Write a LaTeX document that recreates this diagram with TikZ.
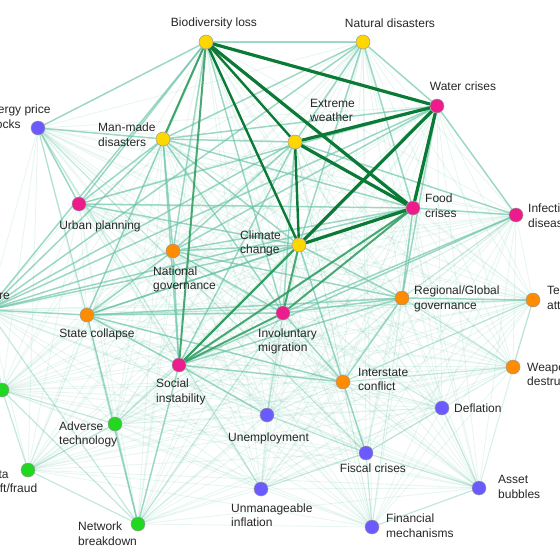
\documentclass[tikz,border=0pt]{standalone}
\usepackage{fontspec}
\setmainfont{Liberation Sans}
\usetikzlibrary{backgrounds}

\definecolor{envyel}{HTML}{FFD700}
\definecolor{socpink}{HTML}{EC1C8C}
\definecolor{geoorange}{HTML}{FF8C00}
\definecolor{ecoblue}{HTML}{6A5AFF}
\definecolor{techgreen}{HTML}{1FD81F}
\definecolor{bugnLight}{HTML}{66C2A4}
\definecolor{bugnMid}{HTML}{2E9B5E}
\definecolor{bugnDark}{HTML}{0B7A36}

\def\risklist{bio,natdis,manmade,extreme,climate,water,food,infect,urban,migration,social,natgov,statecol,regov,interstate,terror,weapons,energy,deflation,unemp,fiscal,bubbles,inflation,finmech,critinfra,cyber,advtech,datafraud,network}

\begin{document}
\begin{tikzpicture}[x=1pt, y=-1pt,
  risk/.style={circle, draw=black!40, line width=0.5pt, minimum size=14pt, inner sep=0pt},
  lbl/.style={font=\fontsize{12}{14.5}\selectfont, align=left, inner sep=0pt, text=black!85},
  linkfaint/.style={draw=bugnLight, line width=0.9pt, opacity=0.15},
  linkweak/.style={draw=bugnLight, line width=1.2pt, opacity=0.3},
  linkmid/.style={draw=bugnLight, line width=1.5pt, opacity=0.6},
  linkdeep/.style={draw=bugnMid, line width=2pt, opacity=0.85},
  linkstrong/.style={draw=bugnDark, line width=3.2pt}
]
\useasboundingbox (0,0) rectangle (560,560);

\node[risk, fill=envyel] (bio) at (206,42) {};
\node[risk, fill=envyel] (natdis) at (363,42) {};
\node[risk, fill=envyel] (manmade) at (163,139) {};
\node[risk, fill=envyel] (extreme) at (295,142) {};
\node[risk, fill=envyel] (climate) at (299,245) {};
\node[risk, fill=socpink] (water) at (437,106) {};
\node[risk, fill=socpink] (food) at (413,208) {};
\node[risk, fill=socpink] (infect) at (516,215) {};
\node[risk, fill=socpink] (urban) at (79,204) {};
\node[risk, fill=socpink] (migration) at (283,313) {};
\node[risk, fill=socpink] (social) at (179,365) {};
\node[risk, fill=geoorange] (natgov) at (173,251) {};
\node[risk, fill=geoorange] (statecol) at (87,315) {};
\node[risk, fill=geoorange] (regov) at (402,298) {};
\node[risk, fill=geoorange] (interstate) at (343,382) {};
\node[risk, fill=geoorange] (terror) at (533,300) {};
\node[risk, fill=geoorange] (weapons) at (513,367) {};
\node[risk, fill=ecoblue] (energy) at (38,128) {};
\node[risk, fill=ecoblue] (deflation) at (442,408) {};
\node[risk, fill=ecoblue] (unemp) at (267,415) {};
\node[risk, fill=ecoblue] (fiscal) at (366,453) {};
\node[risk, fill=ecoblue] (bubbles) at (479,488) {};
\node[risk, fill=ecoblue] (inflation) at (261,489) {};
\node[risk, fill=ecoblue] (finmech) at (372,527) {};
\node[risk, fill=techgreen] (critinfra) at (-12,310) {};
\node[risk, fill=techgreen] (cyber) at (2,390) {};
\node[risk, fill=techgreen] (advtech) at (115,424) {};
\node[risk, fill=techgreen] (datafraud) at (28,470) {};
\node[risk, fill=techgreen] (network) at (138,524) {};

\node[lbl] (bio-l) at (214,23) {Biodiversity loss};
\node[lbl] (natdis-l) at (390,23) {Natural disasters};
\node[lbl] (water-l) at (463,86) {Water crises};
\node[lbl, anchor=west] (extreme-l) at (310,110.5) {Extreme\\weather};
\node[lbl, anchor=west] (manmade-l) at (98,134.5) {Man-made\\disasters};
\node[lbl, anchor=west] (energy-l) at (-17,116.5) {Energy price\\shocks};
\node[lbl] (urban-l) at (100,226) {Urban planning};
\node[lbl, anchor=west] (natgov-l) at (153,279.5) {National\\governance};
\node[lbl, anchor=west] (climate-l) at (240,243.5) {Climate\\change};
\node[lbl, anchor=west] (food-l) at (425,205.5) {Food\\crises};
\node[lbl, anchor=west] (infect-l) at (528,215.5) {Infectious\\diseases};
\node[lbl, anchor=east] (critinfra-l) at (10,295) {Critical infrastructure};
\node[lbl] (statecol-l) at (97,334) {State collapse};
\node[lbl, anchor=west] (social-l) at (156,392) {Social\\instability};
\node[lbl, anchor=west] (migration-l) at (258,341.5) {Involuntary\\migration};
\node[lbl, anchor=west] (regov-l) at (414,299) {Regional/Global\\governance};
\node[lbl, anchor=west] (terror-l) at (547,297.5) {Terrorist\\attacks};
\node[lbl, anchor=west] (weapons-l) at (527,374) {Weapons of mass\\destruction};
\node[lbl, anchor=west] (interstate-l) at (358,379.5) {Interstate\\conflict};
\node[lbl, anchor=west] (deflation-l) at (454,408) {Deflation};
\node[lbl, anchor=west] (unemp-l) at (228,438) {Unemployment};
\node[lbl] (fiscal-l) at (373,468) {Fiscal crises};
\node[lbl, anchor=west] (bubbles-l) at (498,487) {Asset\\bubbles};
\node[lbl, anchor=west] (inflation-l) at (231,515) {Unmanageable\\inflation};
\node[lbl, anchor=west] (finmech-l) at (386,525.5) {Financial\\mechanisms};
\node[lbl, anchor=west] (advtech-l) at (59,434.5) {Adverse\\technology};
\node[lbl, anchor=west] (datafraud-l) at (-17,481.5) {Data\\theft/fraud};
\node[lbl, anchor=west] (network-l) at (78,533.5) {Network\\breakdown};

\begin{scope}[on background layer]
% every pair of risks, faintly
\foreach \a [count=\i] in \risklist {
  \foreach \b [count=\j] in \risklist {
    \ifnum\j>\i \draw[linkfaint] (\a) -- (\b); \fi
  }
}
\foreach \a/\b in {unemp/fiscal, fiscal/bubbles, finmech/bubbles, finmech/fiscal,
    deflation/bubbles, inflation/fiscal, energy/inflation, network/advtech,
    network/datafraud, datafraud/advtech, cyber/network, cyber/datafraud,
    cyber/advtech, critinfra/network, critinfra/cyber, terror/interstate,
    weapons/interstate, terror/weapons, energy/fiscal, energy/statecol,
    unemp/migration, network/migration, advtech/social, deflation/fiscal,
    infect/regov, terror/statecol, weapons/regov}
  \draw[linkweak] (\a) -- (\b);
\foreach \a/\b in {bio/natdis, bio/natgov, bio/migration, bio/urban, bio/statecol,
    bio/energy, manmade/extreme, manmade/climate, manmade/food, manmade/water,
    manmade/natgov, manmade/social, manmade/migration, manmade/urban,
    manmade/natdis, manmade/energy, extreme/natdis, extreme/natgov,
    extreme/social, extreme/migration, extreme/infect, climate/natdis,
    climate/natgov, climate/regov, climate/statecol, climate/urban,
    climate/interstate, water/natdis, water/infect, water/regov, water/natgov,
    food/natdis, food/infect, food/regov, food/natgov, food/statecol,
    food/urban, migration/statecol, migration/regov, migration/interstate,
    migration/natgov, social/statecol, social/natgov, social/regov,
    social/interstate, social/unemp, natgov/statecol, natgov/regov,
    regov/interstate, regov/statecol, statecol/interstate, critinfra/manmade,
    critinfra/extreme, critinfra/climate, critinfra/natdis, critinfra/bio,
    critinfra/statecol, critinfra/natgov, critinfra/water, critinfra/food,
    urban/water, urban/energy, network/social, network/statecol,
    interstate/fiscal, regov/terror, infect/social, infect/migration}
  \draw[linkmid] (\a) -- (\b);
\foreach \a/\b in {climate/social, climate/migration, food/social, water/social,
    social/migration, bio/social, bio/manmade, food/migration}
  \draw[linkdeep] (\a) -- (\b);
\foreach \a/\b in {bio/climate, extreme/climate, bio/extreme}
  \draw[linkstrong, line width=2.4pt] (\a) -- (\b);
\foreach \a/\b in {bio/water, bio/food, water/food, water/climate, food/climate,
    extreme/water, extreme/food}
  \draw[linkstrong] (\a) -- (\b);
\end{scope}
\end{tikzpicture}
\end{document}
